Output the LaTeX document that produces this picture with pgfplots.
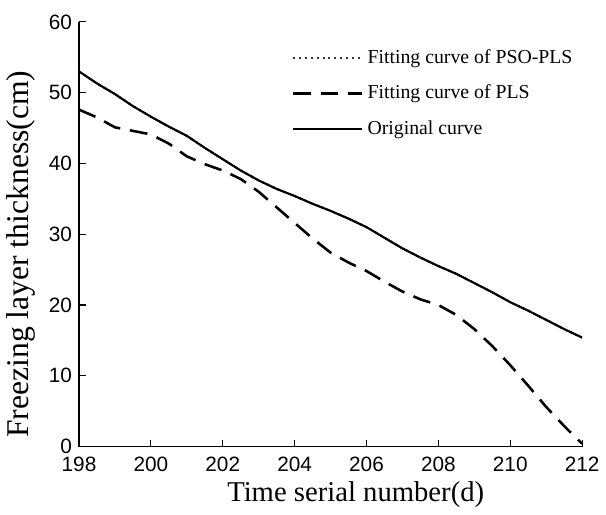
\documentclass[border=0pt]{standalone}
\usepackage{fontspec}
\setmainfont{Liberation Serif}
\setsansfont{Liberation Sans}
\usepackage{pgfplots}
\pgfplotsset{compat=1.18}

\begin{document}
\begin{tikzpicture}
\begin{axis}[
  scale only axis, width=253.5bp, height=214bp,
  xmin=198, xmax=212, ymin=0, ymax=60,
  xtick={198,200,...,212}, ytick={0,10,...,60},
  axis x line*=bottom, axis y line*=left,
  axis line style={-, line width=0.8pt},
  tick align=inside, major tick length=3.5pt,
  tick style={black, line width=0.6pt},
  /pgf/number format/assume math mode=true,
  /pgf/number format/1000 sep={},
  tick label style={font=\sffamily\fontsize{10.5}{12}\selectfont},
  xticklabel style={yshift=-1.5bp},
  xlabel={Time serial number(d)}, ylabel={Freezing layer thickness(cm)},
  xlabel style={font=\fontsize{14.5}{17}\selectfont, at={(ticklabel cs:0.55)}, yshift=1.5bp},
  ylabel style={font=\fontsize{16}{18}\selectfont, at={(ticklabel cs:0.453)}},
  legend style={draw=none, fill=none, at={(0.41,0.955)}, anchor=north west,
    font=\fontsize{10}{12}\selectfont, row sep=5.5pt},
  legend cell align=left,
  legend image code/.code={\draw[#1] (0bp,0bp) -- (35bp,0bp);},
]
\addplot[black!80, line width=1pt, dotted] coordinates {
  (198,53.0) (198.5,51.3) (199,49.8) (199.5,48.1) (200,46.6) (200.5,45.2)
  (201,43.9) (201.5,42.2) (202,40.6) (202.5,39.0) (203,37.6) (203.5,36.4)
  (204,35.4) (204.5,34.3) (205,33.3) (205.5,32.2) (206,31.0) (206.5,29.5)
  (207,28.0) (207.5,26.7) (208,25.5) (208.5,24.4) (209,23.1) (209.5,21.8)
  (210,20.4) (210.5,19.2) (211,17.9) (211.5,16.6) (212,15.4)
};
\addlegendentry{Fitting curve of PSO-PLS}
\addplot[black, line width=1.3pt, dash pattern=on 9pt off 5pt] coordinates {
  (198,47.6) (198.5,46.5) (199,45.1) (199.5,44.6) (200,44.1) (200.5,42.8)
  (201,41.0) (201.5,39.9) (202,39.0) (202.5,37.8) (203,36.0) (203.5,33.8)
  (204,31.6) (204.5,29.4) (205,27.4) (205.5,26.0) (206,24.8) (206.5,23.3)
  (207,21.9) (207.5,20.8) (208,20.0) (208.5,18.6) (209,16.6) (209.5,14.2)
  (210,11.5) (210.5,8.6) (211,5.6) (211.5,2.9) (212,0.4)
};
\addlegendentry{Fitting curve of PLS}
\addplot[black, line width=1.1pt] coordinates {
  (198,53.0) (198.5,51.3) (199,49.8) (199.5,48.1) (200,46.6) (200.5,45.2)
  (201,43.9) (201.5,42.2) (202,40.6) (202.5,39.0) (203,37.6) (203.5,36.4)
  (204,35.4) (204.5,34.3) (205,33.3) (205.5,32.2) (206,31.0) (206.5,29.5)
  (207,28.0) (207.5,26.7) (208,25.5) (208.5,24.4) (209,23.1) (209.5,21.8)
  (210,20.4) (210.5,19.2) (211,17.9) (211.5,16.6) (212,15.4)
};
\addlegendentry{Original curve}
\end{axis}
\path (current bounding box.north) ++(0,4bp);
\end{tikzpicture}
\end{document}
